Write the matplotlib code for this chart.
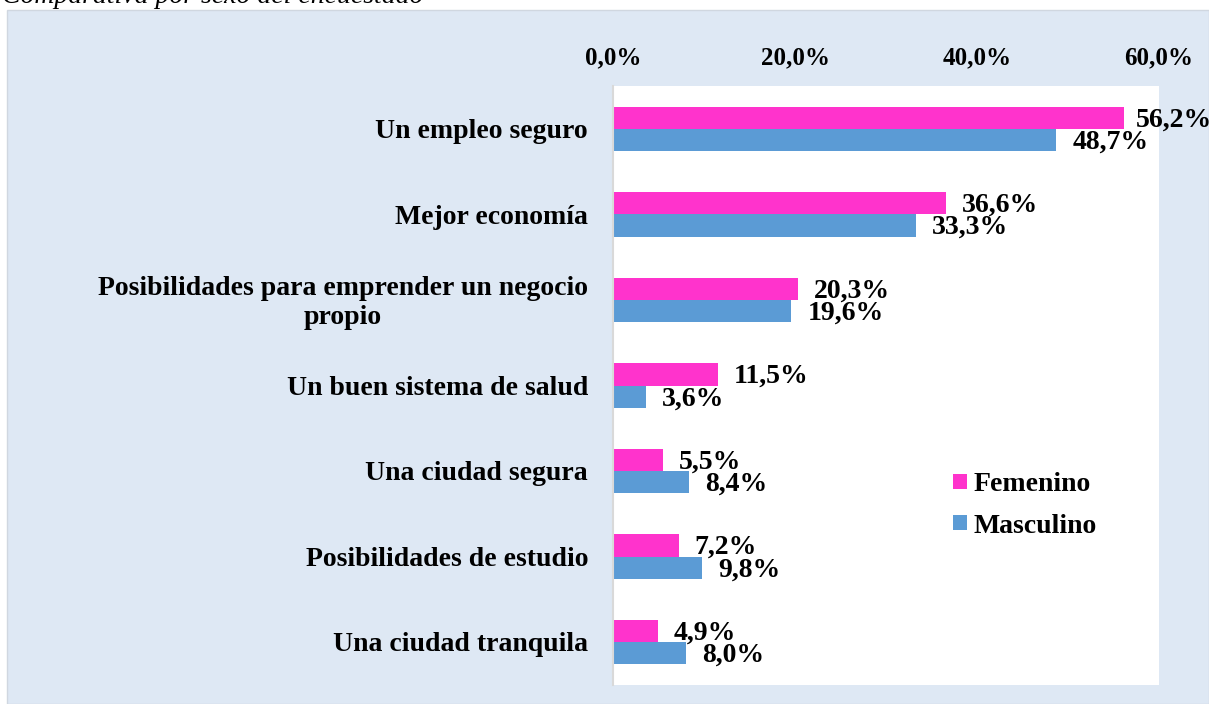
import matplotlib
matplotlib.use("Agg")
import matplotlib.pyplot as plt
import numpy as np
from matplotlib.patches import Rectangle

# Datos
categorias = [
    "Un empleo seguro",
    "Mejor economía",
    "Posibilidades para emprender un negocio\npropio",
    "Un buen sistema de salud",
    "Una ciudad segura",
    "Posibilidades de estudio",
    "Una ciudad tranquila",
]
femenino = [56.2, 36.6, 20.3, 11.5, 5.5, 7.2, 4.9]
masculino = [48.7, 33.3, 19.6, 3.6, 8.4, 9.8, 8.0]
x_ticks = [0, 20, 40, 60]

# desplazamiento de las etiquetas (puntos)
dx_fem = [7.9, 11.5, 11.5, 11.5, 11.5, 11.5, 11.5]
dx_mas = [11.5, 11.5, 11.5, 11.5, 11.5, 11.5, 11.5]

plt.rcParams['font.family'] = ['Liberation Serif', 'DejaVu Serif']
plt.rcParams['font.weight'] = 'bold'

color_fem = '#FF33CC'
color_mas = '#5B9BD5'
fondo = '#DEE8F4'

fig = plt.figure(figsize=(12.09, 7.04), dpi=100)
fig.patch.set_facecolor('white')

# Fondo azul del grafico
fig.patches.append(Rectangle((7 / 1209, 0), 1 - 7 / 1209, 1 - 10 / 704,
                             transform=fig.transFigure, facecolor=fondo,
                             edgecolor='#D0D7E0', linewidth=1, zorder=-5))

# Titulo cortado
fig.text(2 / 1209, 1 - 3 / 704, "Comparativa por sexo del encuestado",
         fontsize=20, fontstyle='italic', fontweight='normal',
         va='baseline', ha='left', zorder=-4)

ax = fig.add_axes([613 / 1209, 1 - 685 / 704, 546 / 1209, 599 / 704])
ax.set_facecolor('white')

y = np.arange(len(categorias))
h = 0.26
bars_f = ax.barh(y - h / 2, femenino, height=h, color=color_fem, label='Femenino')
bars_m = ax.barh(y + h / 2, masculino, height=h, color=color_mas, label='Masculino')

for i, (b, v) in enumerate(zip(bars_f, femenino)):
    ax.annotate(f"{v:.1f}%".replace('.', ','), (v, b.get_y() + b.get_height() / 2),
                xytext=(dx_fem[i], -1.5), textcoords='offset points',
                ha='left', va='center', fontsize=20, fontweight='bold',
                annotation_clip=False)
for i, (b, v) in enumerate(zip(bars_m, masculino)):
    ax.annotate(f"{v:.1f}%".replace('.', ','), (v, b.get_y() + b.get_height() / 2),
                xytext=(dx_mas[i], -1.5), textcoords='offset points',
                ha='left', va='center', fontsize=20, fontweight='bold',
                annotation_clip=False)

ax.set_xlim(0, 60)
ax.set_ylim(len(categorias) - 0.5, -0.5)
ax.set_xticks(x_ticks)
ax.set_xticklabels([f"{t:.1f}%".replace('.', ',') for t in x_ticks])
ax.xaxis.tick_top()
ax.tick_params(axis='x', length=0, pad=12, labelsize=18)

# etiquetas de categoria (centradas en varias lineas)
ax.set_yticks(y)
ax.set_yticklabels([])
ax.tick_params(axis='y', length=0)
for yi, cat in zip(y, categorias):
    ax.annotate(cat, (0, yi), xycoords=ax.get_yaxis_transform(),
                xytext=(-18, -2), textcoords='offset points',
                ha='right', va='center', multialignment='center',
                fontsize=20, fontweight='bold', annotation_clip=False)

for s in ['top', 'right', 'bottom']:
    ax.spines[s].set_visible(False)
ax.spines['left'].set_color('#D9D9D9')
ax.spines['left'].set_linewidth(1.5)

ax.legend(loc='center left', bbox_to_anchor=(0.623, 0.3), frameon=False,
          fontsize=20, handlelength=0.5, handleheight=0.45, handletextpad=0.25,
          labelspacing=0.6, borderpad=0, borderaxespad=0)

plt.savefig('out.png', dpi=100, facecolor=fig.get_facecolor())
